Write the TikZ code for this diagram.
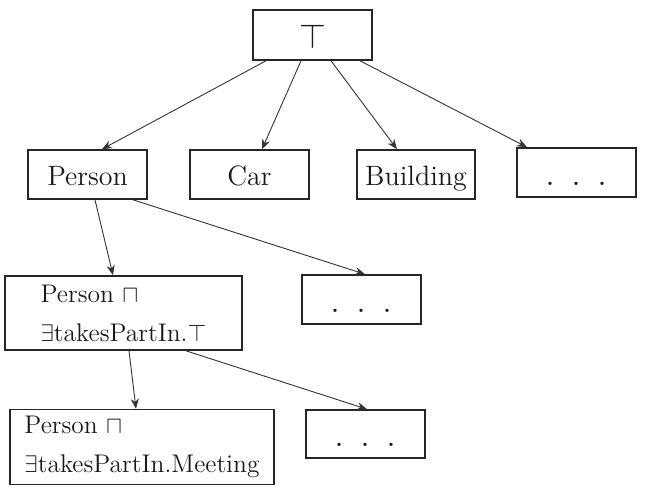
\documentclass[tikz,border=0pt]{standalone}
\usepackage{amsmath}
\usepackage{amssymb}
\usetikzlibrary{arrows.meta}

\newcommand{\moredots}{{\fontsize{20}{20}\selectfont .\hskip7.9pt.\hskip7.9pt.}}

\begin{document}
\begin{tikzpicture}[x=0.5pt, y=-0.5pt, >={Stealth[length=5pt,width=4pt]},
    every node/.style = {draw=black!85, line width=0.8pt, rectangle, text=black!90},
    concept/.style = {minimum width=59.5pt, inner ysep=0pt, text height=17.5pt, text depth=7pt,
      font=\fontsize{14}{17}\selectfont},
    conj/.style = {align=left, minimum height=37pt, inner xsep=4pt,
      font=\fontsize{12.75}{19.5}\selectfont},
    isa/.style = {->, draw=black!80, line width=0.45pt}
    ]
    \useasboundingbox (0,0) rectangle (665,499);

    \node[concept, minimum height=25pt, text depth=6pt, text height=19pt, font=\fontsize{17}{17}\selectfont] (top) at (312.5,35) {$\top$};
    \node[concept] (person) at (87.5,174.5) {Person};
    \node[concept] (car) at (249.5,174.5) {Car};
    \node[concept, minimum width=59pt] (building) at (416,174.5) {Building};
    \node[concept, text depth=6pt, text height=18.5pt] (more1) at (576.5,172.5) {\moredots};
    \node[conj, minimum width=118.5pt] (conj1) at (123.5,313) {Person $\sqcap$\\$\exists$takesPartIn.$\top$};
    \node[concept, text depth=6pt, text height=18.5pt] (more2) at (361.5,299.5) {\moredots};
    \node[conj, minimum width=132pt] (conj2) at (142,447) {Person $\sqcap$\\$\exists$takesPartIn.Meeting};
    \node[concept, text depth=6pt, text height=18pt] (more3) at (365.5,434) {\moredots};

    \draw[isa] ([xshift=-23.25pt]top.south) -- ([xshift=7.25pt]person.north);
    \draw[isa] ([xshift=-5.75pt]top.south) -- ([xshift=6.25pt]car.north);
    \draw[isa] ([xshift=9.25pt]top.south) -- ([xshift=-9.5pt]building.north);
    \draw[isa] ([xshift=23.75pt]top.south) -- ([xshift=-24.75pt]more1.north);
    \draw[isa] ([xshift=3.75pt]person.south) -- ([xshift=-5.25pt]conj1.north);
    \draw[isa] ([xshift=22.75pt]person.south) -- ([xshift=1.75pt]more2.north);
    \draw[isa] ([xshift=2.75pt]conj1.south) -- ([xshift=-3pt]conj2.north);
    \draw[isa] ([xshift=31.25pt]conj1.south) -- ([xshift=0.75pt]more3.north);
\end{tikzpicture}
\end{document}
